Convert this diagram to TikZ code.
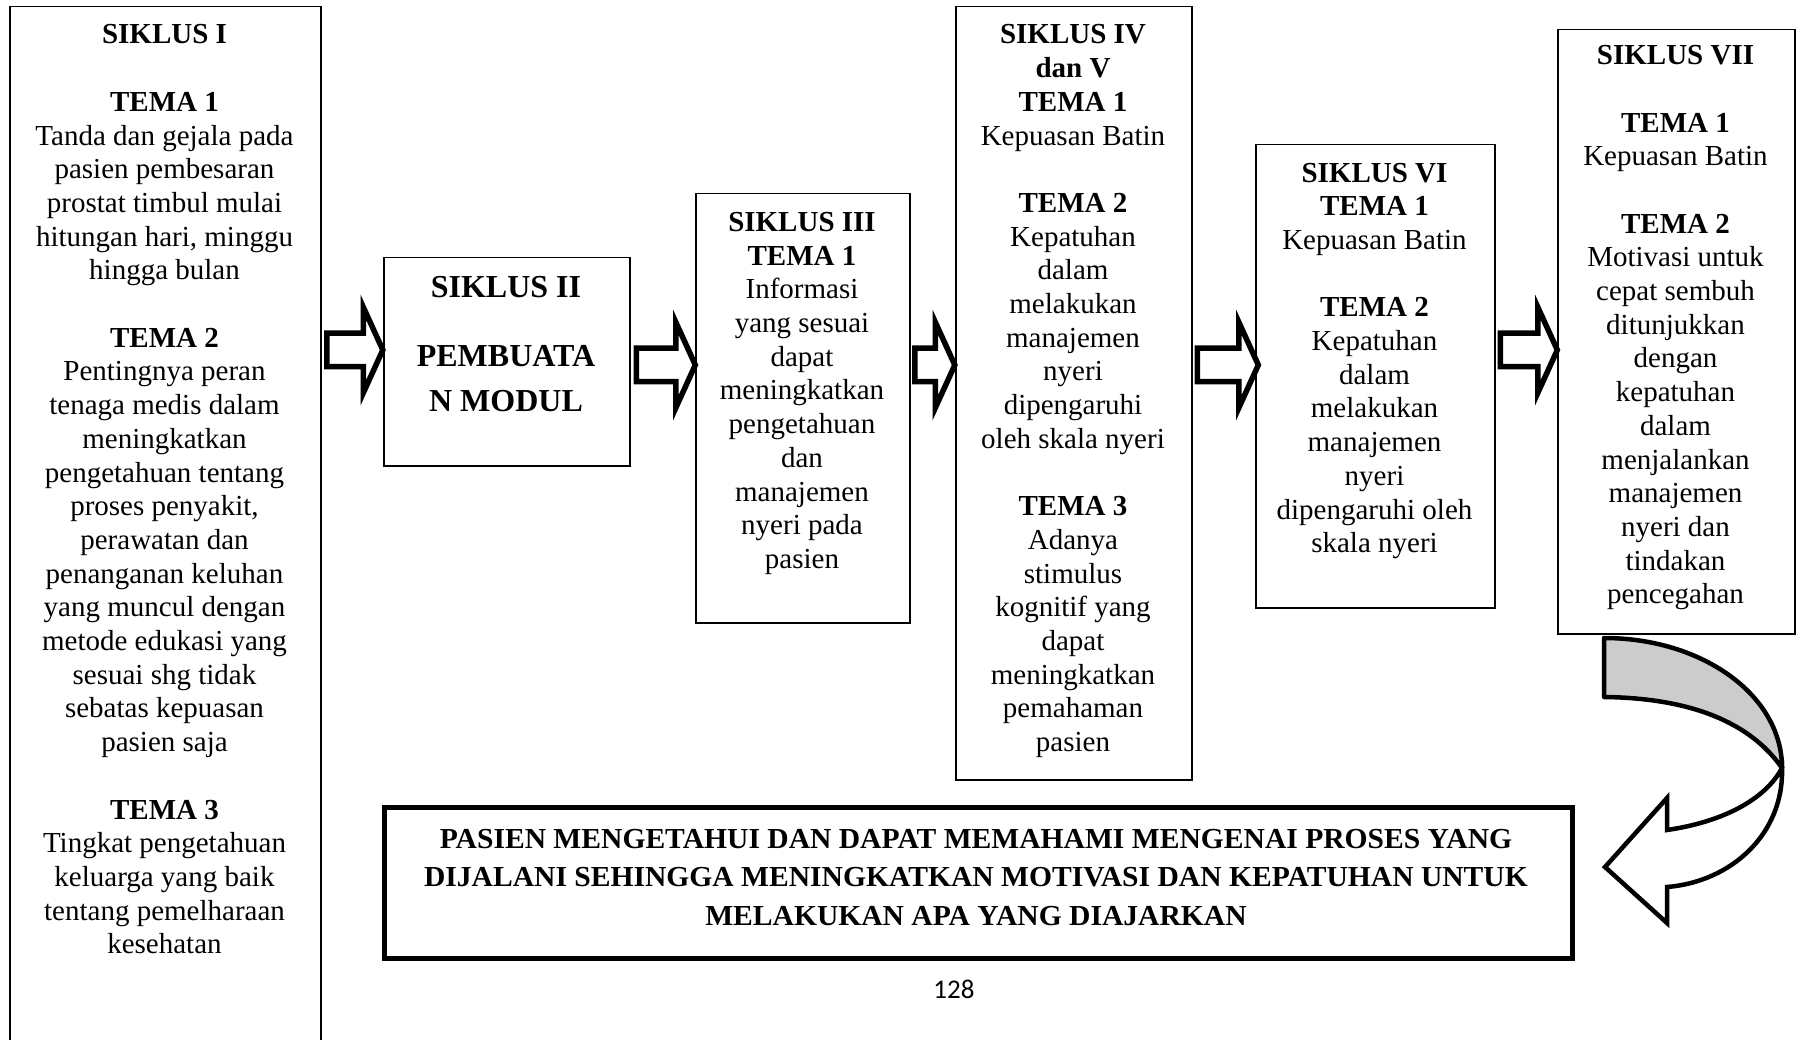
\documentclass[tikz,border=0pt]{standalone}
\usepackage{fontspec}
\setmainfont{Liberation Serif}
\newfontfamily\hasilfont{Liberation Serif}[FakeStretch=1.02]
\newfontfamily\pagefont{Carlito}
\usetikzlibrary{shapes.arrows}

\newcommand{\gap}{\\[33.7pt]}

\tikzset{
  frame/.style={draw, line width=1.5pt, inner sep=0pt, anchor=north west},
  txt/.style={align=center, inner sep=0pt, anchor=north, font=\fontsize{29}{33.7}\selectfont},
  blockarr/.style={single arrow, draw, line width=5.5pt, fill=white, inner sep=0pt,
    text height=28pt, text depth=0pt, single arrow head extend=26pt,
    single arrow tip angle=131, minimum height=#1}
}

\begin{document}
\begin{tikzpicture}[x=1pt, y=-1pt]
\useasboundingbox (0,0) rectangle (1804,1040);

% frames
\path (9,6) node[frame, minimum width=311pt, minimum height=1100pt] (box1) {}
      (383,257) node[frame, minimum width=246pt, minimum height=208pt] (box2) {}
      (695,193) node[frame, minimum width=214pt, minimum height=429pt] (box3) {}
      (955,6) node[frame, minimum width=236pt, minimum height=773pt] (box4) {}
      (1255,144) node[frame, minimum width=239pt, minimum height=463pt] (box6) {}
      (1557,29) node[frame, minimum width=237pt, minimum height=604pt] (box7) {};

\path (164.5,24.5) node[txt] (t1) {\textbf{SIKLUS I}\gap
  \textbf{TEMA 1}\\ Tanda dan gejala pada\\ pasien pembesaran\\ prostat timbul mulai\\ hitungan hari, minggu\\ hingga bulan\gap
  \textbf{TEMA 2}\\ Pentingnya peran\\ tenaga medis dalam\\ meningkatkan\\ pengetahuan tentang\\ proses penyakit,\\ perawatan dan\\ penanganan keluhan\\ yang muncul dengan\\ metode edukasi yang\\ sesuai shg tidak\\ sebatas kepuasan\\ pasien saja\gap
  \textbf{TEMA 3}\\ Tingkat pengetahuan\\ keluarga yang baik\\ tentang pemelharaan\\ kesehatan};

\path (506,275.7) node[txt, font=\bfseries\fontsize{32}{45}\selectfont] (t2) {SIKLUS II\\[24pt] PEMBUATA\\ N MODUL};

\path (802,212) node[txt] (t3) {\textbf{SIKLUS III}\\ \textbf{TEMA 1}\\ Informasi\\ yang sesuai\\ dapat\\ meningkatkan\\ pengetahuan\\ dan\\ manajemen\\ nyeri pada\\ pasien};

\path (1073,24.5) node[txt] (t4) {\textbf{SIKLUS IV}\\ \textbf{dan V}\\ \textbf{TEMA 1}\\ Kepuasan Batin\gap
  \textbf{TEMA 2}\\ Kepatuhan\\ dalam\\ melakukan\\ manajemen\\ nyeri\\ dipengaruhi\\ oleh skala nyeri\gap
  \textbf{TEMA 3}\\ Adanya\\ stimulus\\ kognitif yang\\ dapat\\ meningkatkan\\ pemahaman\\ pasien};

\path (1374.5,162.6) node[txt] (t6) {\textbf{SIKLUS VI}\\ \textbf{TEMA 1}\\ Kepuasan Batin\gap
  \textbf{TEMA 2}\\ Kepatuhan\\ dalam\\ melakukan\\ manajemen\\ nyeri\\ dipengaruhi oleh\\ skala nyeri};

\path (1675.5,45.2) node[txt] (t7) {\textbf{SIKLUS VII}\gap
  \textbf{TEMA 1}\\ Kepuasan Batin\gap
  \textbf{TEMA 2}\\ Motivasi untuk\\ cepat sembuh\\ ditunjukkan\\ dengan\\ kepatuhan\\ dalam\\ menjalankan\\ manajemen\\ nyeri dan\\ tindakan\\ pencegahan};

% block arrows between the cycles
\path (351,350) node[blockarr=56pt] (arr1) {}
      (662,365) node[blockarr=59pt] (arr2) {}
      (931,365) node[blockarr=40pt] (arr3) {}
      (1224,365) node[blockarr=61pt] (arr4) {}
      (1525,350) node[blockarr=57pt] (arr5) {};

% result
\path (382,805) node[frame, line width=5pt, minimum width=1188pt, minimum height=151pt] (hasil) {};
\path (976,829) node[txt, font=\hasilfont\bfseries\fontsize{29}{38.5}\selectfont] (thasil)
  {PASIEN MENGETAHUI DAN DAPAT MEMAHAMI MENGENAI PROSES YANG\\
   DIJALANI SEHINGGA MENINGKATKAN MOTIVASI DAN KEPATUHAN UNTUK\\
   MELAKUKAN APA YANG DIAJARKAN};

% curved arrow
\draw[line width=4.5pt, fill=black!20, line join=round]
  (1604,638) .. controls (1702,638) and (1782,695) .. (1782,768)
  .. controls (1750,722) and (1690,698) .. (1604,697) -- cycle;
\draw[line width=4.5pt, fill=white, line join=miter]
  (1782,768) .. controls (1784,835) and (1730,882) .. (1667,887)
  -- (1667,923) -- (1605,867) -- (1667,798) -- (1667,830)
  .. controls (1722,822) and (1765,800) .. (1782,768) -- cycle;

\path (954,989) node[font=\pagefont\fontsize{27}{30}\selectfont] (hal) {128};
\end{tikzpicture}
\end{document}
